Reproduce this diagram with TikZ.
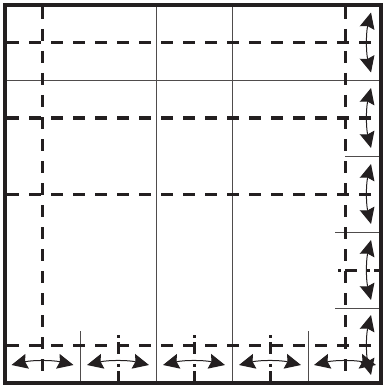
\documentclass[tikz,border=0pt]{standalone}
\usetikzlibrary{arrows.meta}
\definecolor{ink}{HTML}{231F20}
\begin{document}
\begin{tikzpicture}[x=1pt,y=-1pt,
  crease/.style={ink!80,line width=0.8pt},
  fold/.style={ink,line width=3pt,dash pattern=on 12pt off 10pt},
  stub/.style={ink,line width=3pt,dash pattern=on 3pt off 4pt on 12pt off 10pt},
  flip/.style={ink,line width=1pt,{Stealth[length=16pt,width=15pt,inset=2pt]}-{Stealth[length=16pt,width=15pt,inset=2pt]}},
  frame/.style={ink,line width=4.5pt}]
\useasboundingbox (0,0) rectangle (383,385);
\coordinate (nw) at (5,5);
\coordinate (se) at (381,383);

% thin creases
\foreach \x in {156,232} \draw[crease] (\x,5) -- (\x,383);
\draw[crease] (5,80) -- (381,80);
\foreach \x in {80,308} \draw[crease] (\x,331) -- (\x,383);
\draw[crease] (345,156) -- (381,156);
\foreach \y in {232,308} \draw[crease] (335,\y) -- (381,\y);

% folds
\foreach \y in {43,118,194,345} \draw[fold] (7,\y) -- (381,\y);
\foreach \x in {42,345} \draw[fold] (\x,7) -- (\x,383);
\foreach \x in {118,194,270} \draw[stub] (\x,335) -- (\x,383);
\draw[stub] (338,270) -- (381,270);

% flip arrows
\foreach \c in {42.5,118,194,270,345} {
  \draw[flip] (\c-31,365) .. controls (\c-10,360) and (\c+10,360) .. (\c+31,365);
  \draw[flip] (371,\c-30) .. controls (366,\c-10) and (366,\c+10) .. (371,\c+30);
}

\draw[frame] (nw) rectangle (se);
\end{tikzpicture}
\end{document}
